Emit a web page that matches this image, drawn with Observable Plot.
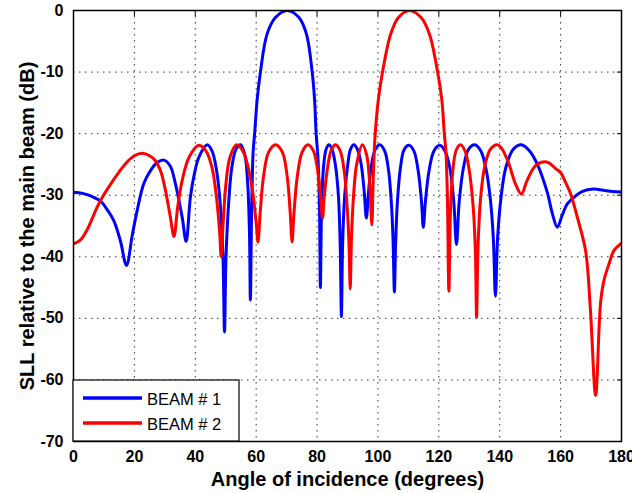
<!DOCTYPE html>
<html>
<head>
<meta charset="utf-8">
<script src="https://cdn.jsdelivr.net/npm/d3@7"></script>
<script src="https://cdn.jsdelivr.net/npm/@observablehq/plot@0.6"></script>
<style>
  html, body { margin: 0; padding: 0; background: #fff; }
  #chart svg { display: block; }
</style>
</head>
<body>
<div id="chart"></div>
<script>
const xTicks = [0, 20, 40, 60, 80, 100, 120, 140, 160, 180];
const yTicks = [0, -10, -20, -30, -40, -50, -60, -70];
const xLabel = "Angle of incidence (degrees)";
const yLabel = "SLL relative to the main beam (dB)";
const seriesNames = ["BEAM # 1", "BEAM # 2"];
const seriesColors = ["#0000ff", "#ff0000"];

// BEAM # 1 (blue)
const beam1Angle = [0, 3, 6, 9, 11, 13.2, 15.4, 17.4, 19.3, 20.9, 23.1, 25.3, 27.5, 29.7, 31.8, 33.5, 35.7, 37.0, 38.4, 39.8, 41.2, 43.9,
  45.5, 47.0, 48.3, 49.1, 49.6, 50.1, 51.0, 52.0, 53.4, 54.9, 56.3, 57.2, 57.8, 58.1, 58.5, 59.0, 59.5, 60.3, 61.4, 63.6, 66.4, 70.2,
  74.0, 76.5, 78.4, 79.2, 79.7, 80.3, 80.8, 81.1, 81.5, 82.2, 83.0, 83.9, 84.9, 86.0, 87.0, 87.6, 88.0, 88.4, 89.1, 90.1, 91.0, 92.1,
  93.3, 94.5, 95.5, 96.2, 96.9, 97.9, 99.1, 100.6, 102.2, 103.5, 104.5, 105.0, 105.4, 105.8, 106.4, 107.4, 108.6, 110.2,
  111.8, 113.2, 114.3, 114.9, 115.6, 116.8, 118.4, 120.3, 122.0, 123.6, 124.9, 125.8, 126.7, 128.1, 129.8, 131.8,
  133.8, 135.6, 137.0, 137.9, 138.6, 139.3, 140.4, 142.0, 144.5, 147.1, 149.8, 152.3, 155.6, 157.3, 158.9, 160.5, 162.2,
  164.5, 167.0, 170.9, 174.0, 177.0, 180.0];
const beam1Level = [-29.5, -29.7, -30.2, -31.0, -32.3, -34.1, -37.4, -41.4, -36.5, -32.5, -28.1, -26.0, -24.7, -24.3, -25.3, -28.2, -33.6, -37.5, -30.3, -26.3, -23.8, -21.8,
  -22.8, -26, -32, -40, -52.2, -40, -31, -25.5, -22.5, -21.8, -23.5, -28, -36, -47, -33, -23, -20, -14.6, -10, -3.8, -1.1, 0,
  -1.1, -3.8, -10, -14.6, -20, -24, -32, -45, -32, -25, -22.5, -21.8, -22.5, -25, -30, -38, -49.7, -38, -30, -25, -22.5, -21.8,
  -22.6, -25, -29.5, -33.7, -29.5, -25, -22.6, -21.8, -22.8, -26, -32, -38, -45.7, -38, -31, -25.5, -22.6, -21.9,
  -22.8, -26, -31, -35.2, -31, -26, -22.8, -21.9, -22.8, -25.5, -31, -38, -31, -25.5, -22.5, -21.8,
  -22.8, -26, -31, -37, -46.4, -37, -30.5, -25.5, -22.5, -21.8, -22.8, -24.9, -29.5, -33, -35.2, -33.3, -31.4,
  -30.3, -29.4, -29.0, -29.2, -29.4, -29.5];

// BEAM # 2 (red)
const beam2Angle = [0, 2.2, 4.5, 7.8, 10, 12.2, 15, 17.6, 20, 22.6, 25, 26.9, 28.7, 30.2, 31.8, 33.0, 34.2, 35.7, 38.0, 41.2,
  43.5, 45.5, 47.0, 48.0, 48.5, 49.1, 50.0, 51.3, 53.5, 55.6, 57.4, 59.0, 60.0, 60.6, 61.3, 62.4, 64.1, 66.4,
  68.6, 70.2, 71.2, 71.8, 72.4, 73.5, 75.1, 77.0, 78.8, 80.2, 81.2, 81.8, 82.4, 83.6, 84.8, 86.1,
  87.6, 88.9, 89.9, 90.5, 90.9, 91.3, 92.0, 93.0, 94.9, 96.3, 97.2, 98.0, 98.4, 98.8, 99.1, 100.1, 101.5, 104.2, 106.8, 110.3,
  114.1, 116.9, 119.6, 121.0, 121.8, 122.3, 122.8, 123.3, 123.8, 124.6, 125.7, 127.1, 128.6, 130.0, 131.3, 132.0, 132.4, 132.9,
  133.8, 135.2, 137.0, 139.2, 140.8, 143.0, 145.2, 147.1, 149.0, 151.8, 155.4, 158.7, 160.0, 161.5, 163.3, 165.5, 168.2, 169.8,
  171.5, 173.1, 174.2, 176.0, 177.5, 180.0];
const beam2Level = [-37.9, -37.3, -35.6, -31.9, -29.9, -28.2, -26.2, -24.6, -23.6, -23.2, -23.6, -24.4, -26.2, -29.2, -33.5, -36.7, -32, -27.6, -23.8, -21.9,
  -22.8, -25.5, -30.5, -36, -40, -35, -28.5, -24, -21.8, -22.8, -25.5, -30, -34.5, -37.6, -33, -27, -23, -21.8,
  -23, -27, -33, -37.6, -33, -27, -23, -21.8, -22.8, -26, -30.5, -33.7, -30, -25, -22.5, -21.8,
  -22.8, -26, -32, -38, -45.2, -37, -30, -25, -21.8, -23.5, -27.5, -34.8, -28, -22.7, -20, -14.6, -10, -3.8, -1.1, 0,
  -1.1, -3.8, -10, -14.6, -20, -22.7, -30, -45.6, -33, -26, -22.7, -21.8, -22.8, -26, -32, -39, -49.8, -38,
  -30, -25, -22.5, -21.8, -22.5, -24.9, -28.2, -29.8, -27.6, -25.2, -24.6, -25.8, -26.3, -27.8, -29.8, -33.6, -39, -48.7,
  -62.5, -47.6, -43.9, -41, -39, -37.8];

const beam1 = beam1Angle.map((a, i) => ({angle: a, level: beam1Level[i]}));
const beam2 = beam2Angle.map((a, i) => ({angle: a, level: beam2Level[i]}));

const font = "'Liberation Sans', Arial, Helvetica, sans-serif";
const gridStyle = {stroke: "#333", strokeOpacity: 1, strokeWidth: 1, strokeDasharray: "1.5,4.5"};

const plot = Plot.plot({
  width: 632,
  height: 493,
  marginLeft: 73,
  marginRight: 11,
  marginTop: 10,
  marginBottom: 52,
  style: {fontFamily: font, background: "#fff", color: "#000"},
  x: {domain: [0, 180], ticks: xTicks},
  y: {domain: [-70, 0], ticks: yTicks},
  marks: [
    Plot.gridX(xTicks.filter(d => d > 0 && d < 180), gridStyle),
    Plot.gridY(yTicks.filter(d => d > -70 && d < 0), gridStyle),
    Plot.line(beam1, {x: "angle", y: "level", stroke: seriesColors[0], strokeWidth: 3, curve: "catmull-rom", clip: true}),
    Plot.line(beam2, {x: "angle", y: "level", stroke: seriesColors[1], strokeWidth: 3, curve: "catmull-rom", clip: true}),
    Plot.axisX({ticks: xTicks, tickSize: 0, tickPadding: 9, fontSize: 16, fontWeight: "bold", tickFormat: d => String(d), label: null}),
    Plot.axisY({ticks: yTicks, tickSize: 0, tickPadding: 10, fontSize: 16, fontWeight: "bold", tickFormat: d => String(d), label: null}),
    Plot.axisX({anchor: "top", ticks: xTicks, tickSize: -5, tickFormat: () => "", label: null}),
    Plot.axisY({anchor: "right", ticks: yTicks, tickSize: -5, tickFormat: () => "", label: null}),
    Plot.frame({stroke: "#000", strokeWidth: 1.5}),
    Plot.text([xLabel], {frameAnchor: "bottom", text: d => d, lineAnchor: "middle", textAnchor: "middle", dy: 37.6, fontSize: 20, fontWeight: "bold", fill: "#000"}),
    Plot.text([yLabel], {frameAnchor: "left", text: d => d, rotate: -90, lineAnchor: "middle", textAnchor: "middle", dx: -46.4, fontSize: 20, fontWeight: "bold", fill: "#000"})
  ]
});

// Legend (inside the plot frame, bottom-left), positioned from the scales
const xs = plot.scale("x"), ys = plot.scale("y");
const left = xs.apply(0), bottom = ys.apply(-70);
const svg = d3.select(plot);
const lg = svg.append("g").attr("font-family", font).attr("text-anchor", "start");
const boxW = 166, boxH = 61;
lg.append("rect").attr("x", left).attr("y", bottom - boxH).attr("width", boxW).attr("height", boxH)
  .attr("fill", "#fff").attr("stroke", "#000").attr("stroke-width", 1.2);
seriesNames.forEach((name, i) => {
  const cy = bottom - boxH + 18 + i * 25;
  lg.append("line").attr("x1", left + 10).attr("x2", left + 69).attr("y1", cy).attr("y2", cy)
    .attr("stroke", seriesColors[i]).attr("stroke-width", 3.5);
  lg.append("text").attr("x", left + 74).attr("y", cy + 6.5).attr("font-size", 16.5)
    .attr("text-anchor", "start").attr("fill", "#000").text(name);
});

document.getElementById("chart").appendChild(plot);
</script>
</body>
</html>
